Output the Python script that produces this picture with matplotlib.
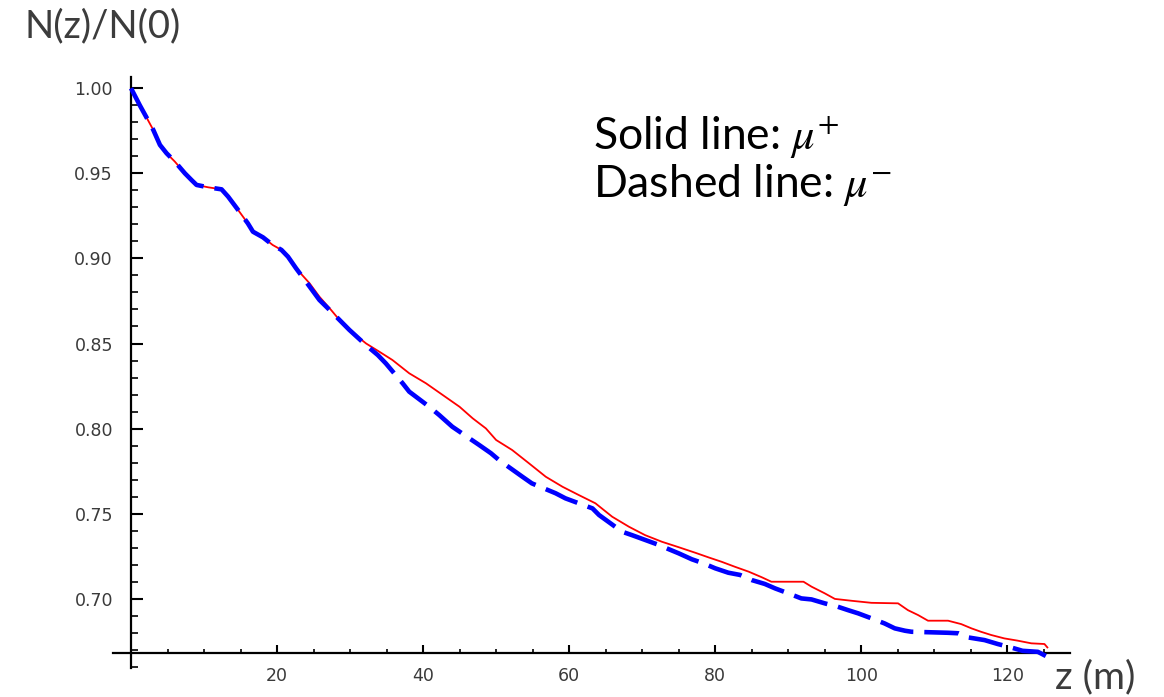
import matplotlib
matplotlib.use("Agg")
import matplotlib.pyplot as plt
from matplotlib.ticker import MultipleLocator, FixedLocator, FuncFormatter

# ---- data ----
z_minus = [0, 1.2, 2.1, 3.05, 3.96, 4.87, 6.0, 7.38, 8.3, 8.97, 10.56, 12.4, 13.3, 14.66,
           16.0, 16.7, 18.07, 19.4, 20.6, 21.5, 22.6, 23.8, 25.8, 27.2, 29.9, 32.2, 33.8,
           34.9, 37.2, 38.1, 40.85, 42.2, 44.0, 47.7, 49.3, 50.4, 53.6, 54.9, 58.15, 59.5,
           63.2, 64.1, 67.25, 68.6, 72.3, 73.6, 75.0, 76.8, 78.4, 80.0, 81.8, 83.4, 85.0,
           86.8, 88.2, 90.0, 91.8, 93.2, 95.0, 96.8, 98.2, 99.6, 101.4, 103.2, 104.6, 106.0,
           106.9, 111.9, 113.3, 114.6, 116.9, 118.7, 120.5, 122.1, 124.2, 125.5]
n_minus = [1.000, 0.990, 0.983, 0.9755, 0.9667, 0.9618, 0.9569, 0.950, 0.946, 0.9432,
           0.9418, 0.9406, 0.9363, 0.9285, 0.9206, 0.9157, 0.9124, 0.9079, 0.905, 0.901,
           0.8942, 0.8873, 0.8756, 0.8697, 0.858, 0.849, 0.8432, 0.8383, 0.8266, 0.8217,
           0.8128, 0.808, 0.8011, 0.7903, 0.7855, 0.7815, 0.7717, 0.7678, 0.762, 0.759,
           0.7531, 0.7492, 0.7394, 0.7374, 0.7316, 0.7292, 0.7267, 0.7232, 0.7208, 0.7179,
           0.7153, 0.714, 0.711, 0.7087, 0.7061, 0.7032, 0.7002, 0.6996, 0.6973, 0.6953,
           0.6933, 0.6914, 0.6885, 0.6855, 0.6826, 0.6812, 0.6806, 0.680, 0.6797, 0.6773,
           0.6757, 0.6734, 0.6714, 0.6694, 0.6688, 0.6659]

z_plus = [0, 1.2, 2.1, 3.05, 3.96, 4.87, 6.0, 7.38, 8.3, 8.97, 10.56, 12.4, 13.3, 14.66,
          16.0, 16.7, 18.07, 19.4, 20.6, 21.5, 22.6, 24.45, 25.8, 27.4, 28.55, 30.15, 32.2,
          34.0, 35.8, 38.1, 40.4, 42.7, 45.0, 46.8, 48.6, 50.0, 52.2, 54.5, 56.8, 59.1,
          61.3, 63.6, 65.9, 68.2, 70.4, 72.7, 75.0, 77.3, 79.1, 80.9, 82.7, 84.6, 86.4,
          87.7, 92.1, 93.2, 95.0, 96.4, 98.7, 101.4, 105.05, 106.4, 107.8, 109.15, 111.9,
          113.7, 115.1, 116.4, 117.8, 119.6, 121.4, 123.3, 125.1, 125.5]
n_plus = [1.000, 0.990, 0.983, 0.9755, 0.9667, 0.9618, 0.9569, 0.950, 0.946, 0.9432,
          0.9418, 0.9406, 0.9363, 0.9285, 0.9206, 0.9157, 0.9124, 0.9079, 0.905, 0.901,
          0.8942, 0.8854, 0.8775, 0.8697, 0.8638, 0.857, 0.850, 0.8452, 0.8403, 0.8325,
          0.8266, 0.8197, 0.8128, 0.806, 0.8001, 0.7933, 0.7874, 0.7796, 0.7717, 0.7658,
          0.761, 0.7561, 0.7482, 0.7423, 0.7374, 0.7335, 0.7303, 0.727, 0.7243, 0.7217,
          0.7188, 0.7159, 0.7126, 0.710, 0.710, 0.7071, 0.7032, 0.6999, 0.6988, 0.6976,
          0.6973, 0.6933, 0.6904, 0.6871, 0.6871, 0.6851, 0.6826, 0.6806, 0.6787, 0.6767,
          0.6754, 0.6738, 0.6734, 0.6714]

x_major = [20, 40, 60, 80, 100, 120]
y_major = [0.70, 0.75, 0.80, 0.85, 0.90, 0.95, 1.00]

W, H = 1164, 697
fig = plt.figure(figsize=(W / 100, H / 100), dpi=100)
plt.rcParams['mathtext.fontset'] = 'stix'

# axes placement in pixels
left_px, right_px, top_px, bot_px = 113, 1070, 76.7, 668
ax = fig.add_axes([left_px / W, 1 - bot_px / H, (right_px - left_px) / W, (bot_px - top_px) / H])
ax.set_xlim(-2.47, 128.6)
ax.set_ylim(0.6593, 1.0068)

ax.plot(z_plus, n_plus, color='#ff0000', lw=1.3, clip_on=False, zorder=2)
ax.plot(z_minus, n_minus, color='#0000ff', lw=3.3, dashes=(7.5, 2.4), clip_on=False, zorder=3)

for s in ['top', 'right']:
    ax.spines[s].set_visible(False)
ax.spines['left'].set_position(('data', 0))
ax.spines['bottom'].set_position(('data', 0.668))
for s in ['left', 'bottom']:
    ax.spines[s].set_linewidth(1.6)
    ax.spines[s].set_color('black')

ax.xaxis.set_major_locator(FixedLocator(x_major))
ax.xaxis.set_minor_locator(MultipleLocator(5))
ax.yaxis.set_major_locator(FixedLocator(y_major))
ax.yaxis.set_minor_locator(MultipleLocator(0.01))
ax.yaxis.set_major_formatter(FuncFormatter(lambda v, p: f"{v:.2f}"))
ax.xaxis.set_major_formatter(FuncFormatter(lambda v, p: f"{v:.0f}"))

lab_col = '#3a3a3a'
ax.tick_params(axis='y', which='major', direction='in', length=8.5, width=1.5, pad=13,
               labelsize=12.5, labelcolor=lab_col)
ax.tick_params(axis='y', which='minor', direction='in', length=5, width=1.2)
ax.tick_params(axis='x', which='major', direction='in', length=6, width=1.5, pad=10,
               labelsize=12.5, labelcolor=lab_col)
ax.tick_params(axis='x', which='minor', direction='in', length=3, width=1.2)
for lab in ax.get_xticklabels() + ax.get_yticklabels():
    lab.set_fontfamily('DejaVu Sans')

# titles / labels
fig.text(25 / W, 1 - 37 / H, 'N(z)/N(0)', fontsize=27.5, family='Lato', color='#3c3c3c',
         va='baseline', ha='left')
fig.text(1055 / W, 1 - 688 / H, 'z (m)', fontsize=28, family='Lato', color='#3c3c3c',
         va='baseline', ha='left')
fig.text(593 / W, 1 - 149 / H, r'Solid line: $\mu^{+}$', fontsize=32, family='Lato',
         color='black', va='baseline', ha='left')
fig.text(593 / W, 1 - 197 / H, r'Dashed line: $\mu^{-}$', fontsize=32, family='Lato',
         color='black', va='baseline', ha='left')

fig.savefig('out.png', dpi=100)
